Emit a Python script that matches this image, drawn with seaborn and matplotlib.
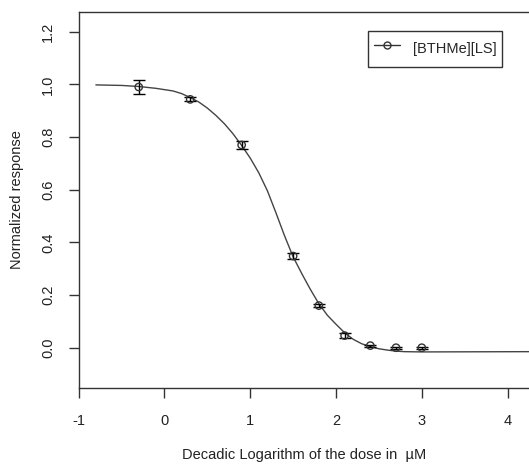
import matplotlib
matplotlib.use("Agg")
import matplotlib.pyplot as plt
import seaborn as sns
import pandas as pd
from matplotlib.lines import Line2D

# observed data
dose_log = [-0.3, 0.3, 0.9, 1.5, 1.8, 2.1, 2.4, 2.7, 3.0]
response = [0.990, 0.943, 0.770, 0.348, 0.160, 0.046, 0.008, 0.000, 0.000]
resp_err = [0.025, 0.008, 0.015, 0.012, 0.005, 0.010, 0.004, 0.004, 0.004]

# fitted curve
curve_x = [-0.8, -0.5, -0.3, -0.1, 0.0, 0.1, 0.2, 0.3, 0.4, 0.5, 0.6, 0.7, 0.8,
           0.9, 1.0, 1.1, 1.2, 1.3, 1.4, 1.5, 1.6, 1.7, 1.8, 1.9, 2.0, 2.1,
           2.2, 2.3, 2.4, 2.5, 2.6, 2.7, 2.8, 3.0, 4.25]
curve_y = [0.998, 0.996, 0.992, 0.985, 0.980, 0.975, 0.965, 0.950, 0.933, 0.910,
           0.882, 0.850, 0.812, 0.768, 0.720, 0.664, 0.596, 0.512, 0.425, 0.345,
           0.282, 0.222, 0.167, 0.123, 0.089, 0.057, 0.032, 0.015, 0.004,
           -0.004, -0.009, -0.013, -0.015, -0.016, -0.015]

series_name = "[BTHMe][LS]"
x_ticks = [-1, 0, 1, 2, 3, 4]
y_ticks = [0.0, 0.2, 0.4, 0.6, 0.8, 1.0, 1.2]

sns.set_style("ticks")
plt.rcParams['font.family'] = ['Liberation Sans', 'DejaVu Sans']

fig = plt.figure(figsize=(5.29, 4.67), dpi=100)
ax = fig.add_axes([78.7 / 529, 79 / 467, (529 - 78.7) / 529, (388 - 11.7) / 467])

dfc = pd.DataFrame({"x": curve_x, "y": curve_y})
dfp = pd.DataFrame({"x": dose_log, "y": response, "e": resp_err})

sns.lineplot(data=dfc, x="x", y="y", ax=ax, color="#444444", lw=1.0, sort=True)
ax.errorbar(dfp["x"], dfp["y"], yerr=dfp["e"], fmt="none", ecolor="black",
            elinewidth=1.0, capsize=4, capthick=1.0, zorder=3)
sns.scatterplot(data=dfp, x="x", y="y", ax=ax, marker="o", s=28,
                facecolor="none", edgecolor="#333333", linewidth=1.0, zorder=4)

ax.set_xlim(-1, 4.25)
ax.set_ylim(-0.153, 1.276)
ax.set_xticks(x_ticks)
ax.set_xticklabels([str(t) for t in x_ticks])
ax.set_yticks(y_ticks)
ax.set_yticklabels([f"{t:.1f}" for t in y_ticks], rotation=90, va="center")

for s in ["left", "bottom", "top"]:
    ax.spines[s].set_color("#333333")
    ax.spines[s].set_linewidth(1.0)
ax.spines["right"].set_visible(False)
ax.tick_params(axis="both", direction="out", length=7, width=1.0,
               color="#333333", labelsize=10.5, labelcolor="#222222")
ax.tick_params(axis="x", pad=12)
ax.tick_params(axis="y", pad=10)

ax.set_xlabel("Decadic Logarithm of the dose in  µM", fontsize=10.5,
              color="#222222", labelpad=14)
ax.set_ylabel("Normalized response", fontsize=10.5, color="#222222", labelpad=12)

# legend
h = Line2D([0], [0], color="#333333", lw=1.0, marker="o", markersize=5,
           markerfacecolor="none", markeredgecolor="#333333")
leg = ax.legend([h], [series_name], loc="upper right",
                bbox_to_anchor=((502.3 - 78.7) / (529 - 78.7), (388 - 30.7) / (388 - 11.7)),
                fontsize=10.5, frameon=True, fancybox=False, borderpad=0.4,
                handlelength=1.8, handleheight=2.2, handletextpad=0.85,
                borderaxespad=0)
leg.get_frame().set_edgecolor("black")
leg.get_frame().set_linewidth(1.0)

fig.savefig("out.png", dpi=100)
